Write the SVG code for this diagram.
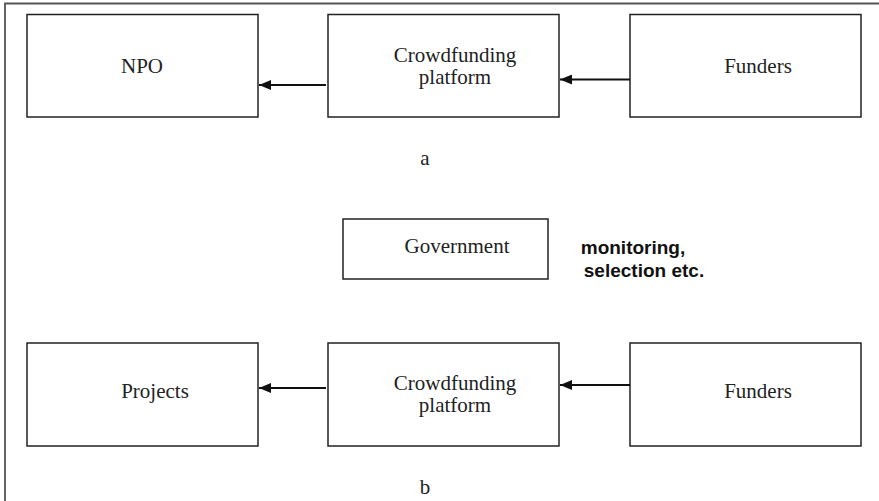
<svg xmlns="http://www.w3.org/2000/svg" width="879" height="501" viewBox="0 0 879 501">
  <defs>
    <marker id="head" viewBox="0 0 12 10" refX="12" refY="5" markerWidth="12" markerHeight="10" markerUnits="userSpaceOnUse" orient="auto">
      <path d="M0,0 L12,5 L0,10 Z" fill="#111"/>
    </marker>
    <style>
      .box { fill: #fff; stroke: #222; stroke-width: 1.5; }
      .lbl { font-family: "Liberation Serif", "Times New Roman", serif; font-size: 21px; fill: #222; }
      .note { font-family: "Liberation Sans", Arial, sans-serif; font-size: 19px; font-weight: bold; fill: #111; }
      .edge { stroke: #111; stroke-width: 2; fill: none; marker-end: url(#head); }
      .frame { stroke: #555; stroke-width: 1.8; fill: none; }
    </style>
  </defs>
  <rect width="879" height="501" fill="#fff"/>
  <!-- outer frame: top and left edges only -->
  <path class="frame" d="M5,501 V3.5 H879"/>

  <!-- part a -->
  <g id="npo">
    <rect class="box" x="27" y="14.5" width="231" height="102.5"/>
    <text class="lbl" x="142" y="73" text-anchor="middle">NPO</text>
  </g>
  <g id="platform-a">
    <rect class="box" x="328" y="14.5" width="231" height="102.5"/>
    <text class="lbl" x="455" y="62" text-anchor="middle">Crowdfunding</text>
    <text class="lbl" x="455" y="84" text-anchor="middle">platform</text>
  </g>
  <g id="funders-a">
    <rect class="box" x="630" y="14.5" width="231" height="102.5"/>
    <text class="lbl" x="758" y="73" text-anchor="middle">Funders</text>
  </g>
  <text class="lbl" x="425" y="165" text-anchor="middle">a</text>

  <!-- government -->
  <g id="government">
    <rect class="box" x="343" y="219" width="205" height="60"/>
    <text class="lbl" x="457" y="253" text-anchor="middle">Government</text>
  </g>
  <text class="note" x="633" y="254" text-anchor="middle">monitoring,</text>
  <text class="note" x="644" y="277" text-anchor="middle">selection etc.</text>

  <!-- part b -->
  <g id="projects">
    <rect class="box" x="27" y="343" width="231" height="103"/>
    <text class="lbl" x="155" y="398" text-anchor="middle">Projects</text>
  </g>
  <g id="platform-b">
    <rect class="box" x="328" y="343" width="231" height="103"/>
    <text class="lbl" x="455" y="390" text-anchor="middle">Crowdfunding</text>
    <text class="lbl" x="455" y="412" text-anchor="middle">platform</text>
  </g>
  <g id="funders-b">
    <rect class="box" x="630" y="343" width="231" height="103"/>
    <text class="lbl" x="758" y="398" text-anchor="middle">Funders</text>
  </g>
  <text class="lbl" x="425" y="494" text-anchor="middle">b</text>

  <!-- connectors -->
  <g id="connectors">
    <line class="edge" x1="326" y1="85" x2="259" y2="85"/>
    <line class="edge" x1="630" y1="79.5" x2="560" y2="79.5"/>
    <line class="edge" x1="326" y1="388" x2="259" y2="388"/>
    <line class="edge" x1="630" y1="385" x2="560" y2="385"/>
  </g>
</svg>
